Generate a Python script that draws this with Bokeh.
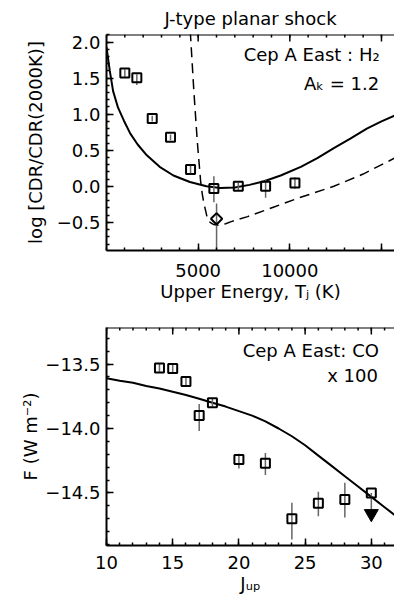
import math
from bokeh.plotting import figure
from bokeh.layouts import column
from bokeh.models import Range1d, FixedTicker, Label, Span
from bokeh.embed import file_html
from bokeh.resources import INLINE

# ---------------- Top panel: H2, J-type planar shock ----------------
h2_energy = [1000, 1655, 2494, 3493, 4585, 5857, 7189, 8679, 10279]
h2_logcdr = [1.57, 1.505, 0.94, 0.68, 0.234, -0.03, 0.0, 0.0, 0.046]
h2_err_lo = [0.05, 0.10, 0.04, 0.04, 0.05, 0.19, 0.05, 0.16, 0.08]
h2_err_hi = [0.05, 0.05, 0.04, 0.04, 0.05, 0.17, 0.05, 0.09, 0.08]

diam_energy = [6004]
diam_logcdr = [-0.45]
diam_err_lo = [0.50]
diam_err_hi = [0.21]

model_energy = [0, 180, 360, 630, 950, 1300, 1700, 2200, 2900, 3650, 4550, 5450,
                6200, 7000, 7800, 8600, 9500, 10600, 11500, 12400, 13300, 14200,
                15000, 15710]
model_logcdr = [1.93, 1.60, 1.32, 1.09, 0.91, 0.73, 0.58, 0.43, 0.27, 0.15, 0.06, 0.0,
                -0.025, -0.015, 0.02, 0.07, 0.15, 0.27, 0.39, 0.53, 0.66, 0.80,
                0.90, 0.98]

dash_energy = [4570, 4765, 4950, 5130, 5220, 5300, 5400, 5500, 5650, 5850, 6100,
               6500, 6800, 7700, 9100, 10500, 12400, 14000, 15710]
dash_logcdr = [2.15, 1.32, 0.63, 0.08, -0.10, -0.22, -0.33, -0.44, -0.50, -0.53,
               -0.54, -0.52, -0.49, -0.42, -0.29, -0.16, 0.0, 0.17, 0.39]

top_xticks = [5000, 10000, 15000]
top_xtick_labels = ["5000", "10000", ""]
top_yticks = [-0.5, 0.0, 0.5, 1.0, 1.5, 2.0]
top_ytick_labels = ["\u22120.5", "0.0", "0.5", "1.0", "1.5", "2.0"]

# ---------------- Bottom panel: CO ----------------
co_jup = [14, 15, 16, 17, 18, 20, 22, 24, 26, 28, 30]
co_logf = [-13.53, -13.535, -13.635, -13.90, -13.80, -14.24, -14.27, -14.70,
           -14.58, -14.55, -14.50]
co_err_lo = [0.03, 0.03, 0.03, 0.12, 0.03, 0.07, 0.09, 0.16, 0.10, 0.14, 0.16]
co_err_hi = [0.03, 0.03, 0.03, 0.09, 0.03, 0.045, 0.08, 0.125, 0.09, 0.13, 0.0]

co_limit_j = [30]
co_limit_f = [-14.66]

co_model_j = [10, 11, 12, 13, 14, 15, 16, 17, 18, 19, 20, 21, 22, 23, 24, 25, 26,
              27, 28, 29, 30, 31, 31.75]
co_model_f = [-13.61, -13.63, -13.645, -13.67, -13.69, -13.715, -13.74, -13.77,
              -13.80, -13.83, -13.865, -13.90, -13.945, -14.0, -14.06, -14.13,
              -14.21, -14.29, -14.37, -14.45, -14.53, -14.61, -14.67]

bot_xticks = [10, 15, 20, 25, 30]
bot_xtick_labels = ["10", "15", "20", "25", "30"]
bot_yticks = [-14.5, -14.0, -13.5]
bot_ytick_labels = ["\u221214.5", "\u221214.0", "\u221213.5"]

FONT = "DejaVu Sans"
FS = "18px"
ERR_COLOR = "#666666"
MAJ_LEN = 7
MIN_LEN = 3


def style_axis(ax):
    ax.axis_line_width = 2
    ax.axis_line_color = "black"
    ax.major_tick_in = MAJ_LEN
    ax.major_tick_out = 0
    ax.minor_tick_in = MIN_LEN
    ax.minor_tick_out = 0
    ax.major_tick_line_width = 1.5
    ax.minor_tick_line_width = 1.5
    ax.major_label_text_font = FONT
    ax.major_label_text_font_size = FS
    ax.major_label_text_color = "black"
    ax.axis_label_text_font = FONT
    ax.axis_label_text_font_size = FS
    ax.axis_label_text_font_style = "normal"
    ax.axis_label_text_color = "black"


def minor_list(step, lo, hi):
    n0 = int(math.floor(lo / step))
    n1 = int(math.ceil(hi / step))
    return [round(i * step, 6) for i in range(n0, n1 + 1)]


def top_frame(p, majors, minors, y_top):
    # top box edge with inward ticks (IDL style box)
    p.add_layout(Span(location=y_top, dimension="width", line_color="black",
                      line_width=2))
    p.ray(x=minors, y=[y_top] * len(minors), length=MIN_LEN, length_units="screen",
          angle=-math.pi / 2, line_color="black", line_width=1.5)
    p.ray(x=majors, y=[y_top] * len(majors), length=MAJ_LEN, length_units="screen",
          angle=-math.pi / 2, line_color="black", line_width=1.5)


def note(p, x, y, text):
    p.add_layout(Label(x=x, y=y, text=text, text_align="right", text_baseline="middle",
                       text_font=FONT, text_font_size=FS, text_color="black"))


# ---------------- Top figure ----------------
X1 = (0, 15710)
Y1 = (-0.89, 2.105)
p1 = figure(width=394, height=310, output_backend="svg", toolbar_location=None,
            x_range=Range1d(*X1), y_range=Range1d(*Y1),
            min_border_left=106, min_border_right=0, min_border_top=33,
            min_border_bottom=60, x_axis_location="below", y_axis_location="left")
p1.outline_line_color = None
p1.grid.visible = False
p1.title.text = "J-type planar shock"
p1.title.align = "center"
p1.title.text_font = FONT
p1.title.text_font_size = FS
p1.title.text_font_style = "normal"
p1.title.text_color = "black"
p1.title.standoff = 11
p1.title.offset = 0

x1_minor = minor_list(1000, X1[0], X1[1])
y1_minor = minor_list(0.1, Y1[0], Y1[1])
p1.xaxis.ticker = FixedTicker(ticks=top_xticks, minor_ticks=x1_minor)
p1.yaxis.ticker = FixedTicker(ticks=top_yticks, minor_ticks=y1_minor)
p1.xaxis.major_label_overrides = dict(zip(top_xticks, top_xtick_labels))
p1.yaxis.major_label_overrides = dict(zip(top_yticks, top_ytick_labels))
p1.xaxis.axis_label = "Upper Energy, T\u2c7c (K)"
p1.yaxis.axis_label = "log [CDR/CDR(2000K)]"
for ax in p1.xaxis + p1.yaxis:
    style_axis(ax)
p1.xaxis.major_label_standoff = 13
p1.yaxis.major_label_standoff = 6
p1.xaxis.axis_label_standoff = 1
p1.yaxis.axis_label_standoff = 8
top_frame(p1, top_xticks, x1_minor, Y1[1])

p1.line(model_energy, model_logcdr, line_color="black", line_width=2)
p1.line(dash_energy, dash_logcdr, line_color="black", line_width=1.5, line_dash="10 6")
p1.segment(x0=h2_energy, y0=[y - e for y, e in zip(h2_logcdr, h2_err_lo)],
           x1=h2_energy, y1=[y + e for y, e in zip(h2_logcdr, h2_err_hi)],
           line_color=ERR_COLOR, line_width=1.5)
p1.segment(x0=diam_energy, y0=[y - e for y, e in zip(diam_logcdr, diam_err_lo)],
           x1=diam_energy, y1=[y + e for y, e in zip(diam_logcdr, diam_err_hi)],
           line_color=ERR_COLOR, line_width=1.5)
p1.scatter(h2_energy, h2_logcdr, marker="square", size=9, fill_color=None,
           line_color="black", line_width=2)
p1.scatter(diam_energy, diam_logcdr, marker="square", size=8, angle=0.785398,
           fill_color=None, line_color="black", line_width=2)

note(p1, 14900, 1.83, "Cep A East : H\u2082")
note(p1, 14870, 1.43, "A\u2096 = 1.2")

# ---------------- Bottom figure ----------------
X2 = (10, 31.75)
Y2 = (-14.907, -13.217)
p2 = figure(width=394, height=290, output_backend="svg", toolbar_location=None,
            x_range=Range1d(*X2), y_range=Range1d(*Y2),
            min_border_left=106, min_border_right=0, min_border_top=17,
            min_border_bottom=55, x_axis_location="below", y_axis_location="left")
p2.outline_line_color = None
p2.grid.visible = False

x2_minor = minor_list(1, X2[0], X2[1])
y2_minor = minor_list(0.1, Y2[0], Y2[1])
p2.xaxis.ticker = FixedTicker(ticks=bot_xticks, minor_ticks=x2_minor)
p2.yaxis.ticker = FixedTicker(ticks=bot_yticks, minor_ticks=y2_minor)
p2.xaxis.major_label_overrides = dict(zip(bot_xticks, bot_xtick_labels))
p2.yaxis.major_label_overrides = dict(zip(bot_yticks, bot_ytick_labels))
p2.xaxis.axis_label = "J\u1d64\u209a"
p2.yaxis.axis_label = "F (W m\u207b\u00b2)"
for ax in p2.xaxis + p2.yaxis:
    style_axis(ax)
p2.xaxis.major_label_standoff = 10
p2.yaxis.major_label_standoff = 6
p2.xaxis.axis_label_standoff = 1
p2.yaxis.axis_label_standoff = 1
top_frame(p2, bot_xticks, x2_minor, Y2[1])

p2.line(co_model_j, co_model_f, line_color="black", line_width=2)
p2.segment(x0=co_jup, y0=[y - e for y, e in zip(co_logf, co_err_lo)],
           x1=co_jup, y1=[y + e for y, e in zip(co_logf, co_err_hi)],
           line_color=ERR_COLOR, line_width=1.5)
p2.scatter(co_jup, co_logf, marker="square", size=9, fill_color=None,
           line_color="black", line_width=2)
p2.scatter(co_limit_j, co_limit_f, marker="inverted_triangle", size=14,
           fill_color="black", line_color="black")

note(p2, 30.57, -13.397, "Cep A East: CO")
note(p2, 30.5, -13.59, "x 100")

layout = column(p1, p2, spacing=0)
open("out.html", "w").write(file_html(layout, INLINE))
